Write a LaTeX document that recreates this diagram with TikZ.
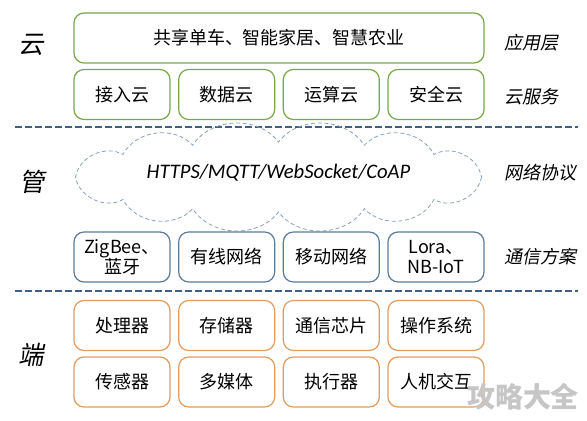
\documentclass[tikz,border=0pt]{standalone}
\usepackage{fontspec}
\setmainfont{Carlito}
\newfontfamily\cjk{Noto Sans CJK SC}
\newfontfamily\cjkit{Noto Sans CJK SC}[FakeSlant=0.2]
\definecolor{boxgreen}{HTML}{77A84A}
\definecolor{boxblue}{HTML}{5B7B9D}
\definecolor{boxorange}{HTML}{E39A5E}
\definecolor{sepblue}{HTML}{3E5F88}
\definecolor{cloudblue}{HTML}{86A2BE}
\definecolor{markgray}{HTML}{C6C6C6}
\begin{document}
\begin{tikzpicture}[x=0.75pt,y=-0.75pt,
     cbox/.style={draw,line width=0.9pt,rounded corners=7.5pt,minimum width=72pt,minimum height=37.5pt,inner sep=1pt,align=center,font=\cjk\fontsize{13.5}{15}\selectfont},
     greenbox/.style={cbox,draw=boxgreen},
     bluebox/.style={cbox,draw=boxblue},
     orangebox/.style={cbox,draw=boxorange},
     layerlabel/.style={font=\cjkit\fontsize{19}{19}\selectfont},
     sidelabel/.style={anchor=west,font=\cjkit\fontsize{13.5}{15}\selectfont},
     sepline/.style={draw=sepblue,line width=1.5pt,dash pattern=on 5pt off 2.5pt},
     cloudline/.style={draw=cloudblue,line width=0.6pt,dash pattern=on 3pt off 2pt}
     ]
\useasboundingbox (0,0) rectangle (587,421);

%Column centres and their separation
\def \xa{122}
\def \wid{104.67}

%Cloud layer
\node[greenbox,minimum width=307.5pt] (app) at (279,38) {共享单车、智能家居、智慧农业};
\foreach [count=\i] \t in {接入云,数据云,运算云,安全云}
   {
\node[greenbox] (svc\i) at ({\xa+(\i-1)*\wid},94.5) {\t};
   }

%Separators
\draw[sepline] (15,126.5) coordinate (s1a) -- (578,126.5) coordinate (s1b);
\draw[sepline] (15,290.5) coordinate (s2a) -- (578,290.5) coordinate (s2b);

%Pipe layer: cloud drawn as puffs round an ellipse
\def \cx{278.5}
\def \cy{177}
\foreach [count=\i] \a in {0,40,65,90,115,140,180,220,245,270,295,320}
   {
\coordinate (c\i) at ({\cx+203*cos(\a)},{\cy+35*sin(\a)});
   }
\draw[cloudline] (c1) \foreach \i in {2,...,12} { to[bend left=55] (c\i) } to[bend left=55] (c1);
\node[font=\itshape\fontsize{15.5}{17}\selectfont] (prototext) at (278.5,173) {HTTPS/MQTT/WebSocket/CoAP};
\foreach [count=\i] \t in {{ZigBee{\cjk 、}\\{\cjk 蓝牙}},有线网络,移动网络,{Lora{\cjk 、}\\NB-IoT}}
   {
\node[bluebox] (net\i) at ({\xa+(\i-1)*\wid},257) {\t};
   }

%Device layer
\foreach [count=\i] \t in {处理器,存储器,通信芯片,操作系统}
   {
\node[orangebox] (dev\i) at ({\xa+(\i-1)*\wid},325.5) {\t};
   }
\foreach [count=\i] \t in {传感器,多媒体,执行器,人机交互}
   {
\node[orangebox] (io\i) at ({\xa+(\i-1)*\wid},382) {\t};
   }

%Layer names
\node[layerlabel] (yun) at (31,45) {云};
\node[layerlabel] (guan) at (32,182) {管};
\node[layerlabel] (duan) at (31,355) {端};

%Side labels
\node[sidelabel] (l1) at (500,43) {应用层};
\node[sidelabel] (l2) at (500,97) {云服务};
\node[sidelabel] (l3) at (500,173) {网络协议};
\node[sidelabel] (l4) at (500,257) {通信方案};

%Watermark
\node[font=\cjk\bfseries\fontsize{21}{21}\selectfont,text=markgray] (mark) at (523,397) {攻略大全};
 \end{tikzpicture}
\end{document}
